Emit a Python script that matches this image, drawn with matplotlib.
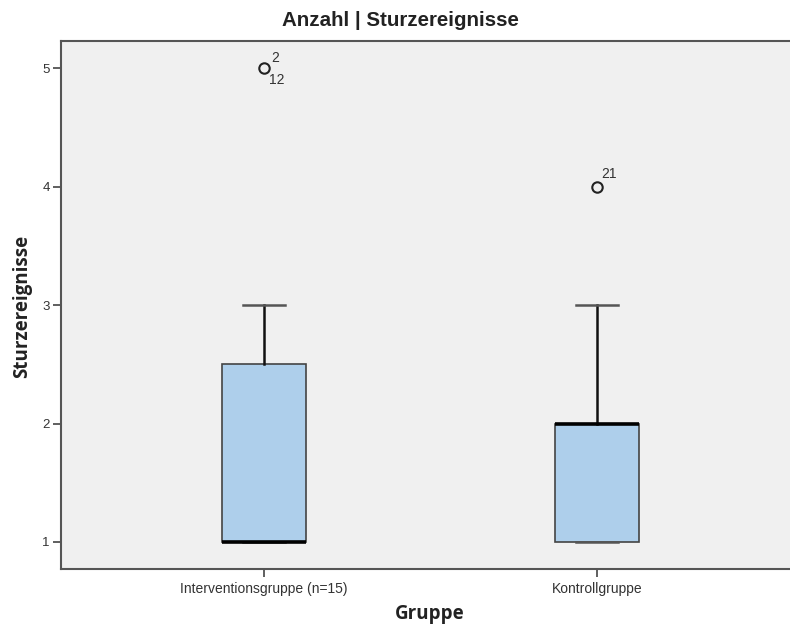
import matplotlib
matplotlib.use("Agg")
import matplotlib.pyplot as plt

plt.rcParams['font.family'] = ['Liberation Sans', 'DejaVu Sans']

categories = ["Interventionsgruppe (n=15)", "Kontrollgruppe"]
q1 = [1.0, 1.0]
median = [1.0, 2.0]
q3 = [2.5, 2.0]
whisker_low = [1.0, 1.0]
whisker_high = [3.0, 3.0]
outliers = [[5.0], [4.0]]
outlier_labels = [["2", "12"], ["21"]]
yticks = [1, 2, 3, 4, 5]

fig = plt.figure(figsize=(7.9, 6.26), dpi=100)
W, H = 790, 626
ax = fig.add_axes([61 / W, 1 - 569 / H, (790 - 61) / W, (569 - 41) / H])
ax.set_facecolor('#F0F0F0')

stats = []
for i, c in enumerate(categories):
    stats.append(dict(label=c, med=median[i], q1=q1[i], q3=q3[i],
                      whislo=whisker_low[i], whishi=whisker_high[i],
                      fliers=outliers[i]))

positions = [1, 2]
ax.bxp(stats, positions=positions, widths=0.252, patch_artist=True,
       boxprops=dict(facecolor='#AECFEB', edgecolor='#444444', linewidth=1.2),
       medianprops=dict(color='black', linewidth=2.6),
       whiskerprops=dict(color='#111111', linewidth=1.8),
       capprops=dict(color='#555555', linewidth=1.8),
       capwidths=0.126,
       flierprops=dict(marker='o', markersize=7.5, markerfacecolor='none',
                       markeredgecolor='#222222', markeredgewidth=1.5))

# outlier case labels (offsets in points)
lab_kw = dict(textcoords='offset points', fontsize=10, color='#333333',
              ha='center', va='center')
ax.annotate(outlier_labels[0][0], (positions[0], outliers[0][0]),
            xytext=(8, 7.5), **lab_kw)
ax.annotate(outlier_labels[0][1], (positions[0], outliers[0][0]),
            xytext=(9.5, -8.5), **lab_kw)
ax.annotate(outlier_labels[1][0], (positions[1], outliers[1][0]),
            xytext=(9, 9), **lab_kw)

ax.set_xlim(1 - 203 / 333, 2 + 193 / 333)
ax.set_ylim(1 - 27 / 118.5, 5 + 27 / 118.5)
ax.set_yticks(yticks)
ax.set_yticklabels([str(v) for v in yticks])
ax.set_xticks(positions)
ax.set_xticklabels(categories)
ax.tick_params(axis='both', colors='#444444', length=6, width=1.2, labelcolor='#333333')
ax.tick_params(axis='y', labelsize=9.5, pad=2)
ax.tick_params(axis='x', labelsize=10, pad=3)

for s in ['left', 'bottom', 'top']:
    ax.spines[s].set_color('#555555')
    ax.spines[s].set_linewidth(1.5)
ax.spines['right'].set_visible(False)

fig.text(400 / W, 1 - 21 / H, "Anzahl | Sturzereignisse", ha='center', va='center',
         fontsize=14.8, fontweight='bold', color='#222222')
fig.text(22 / W, 1 - 306 / H, "Sturzereignisse", ha='center', va='center', rotation=90,
         fontsize=13.5, fontweight='bold', color='#222222', family=['Open Sans', 'DejaVu Sans'])
fig.text(430 / W, 1 - 614 / H, "Gruppe", ha='center', va='center',
         fontsize=13.5, fontweight='bold', color='#222222', family=['Open Sans', 'DejaVu Sans'])

fig.savefig('out.png', dpi=100)
